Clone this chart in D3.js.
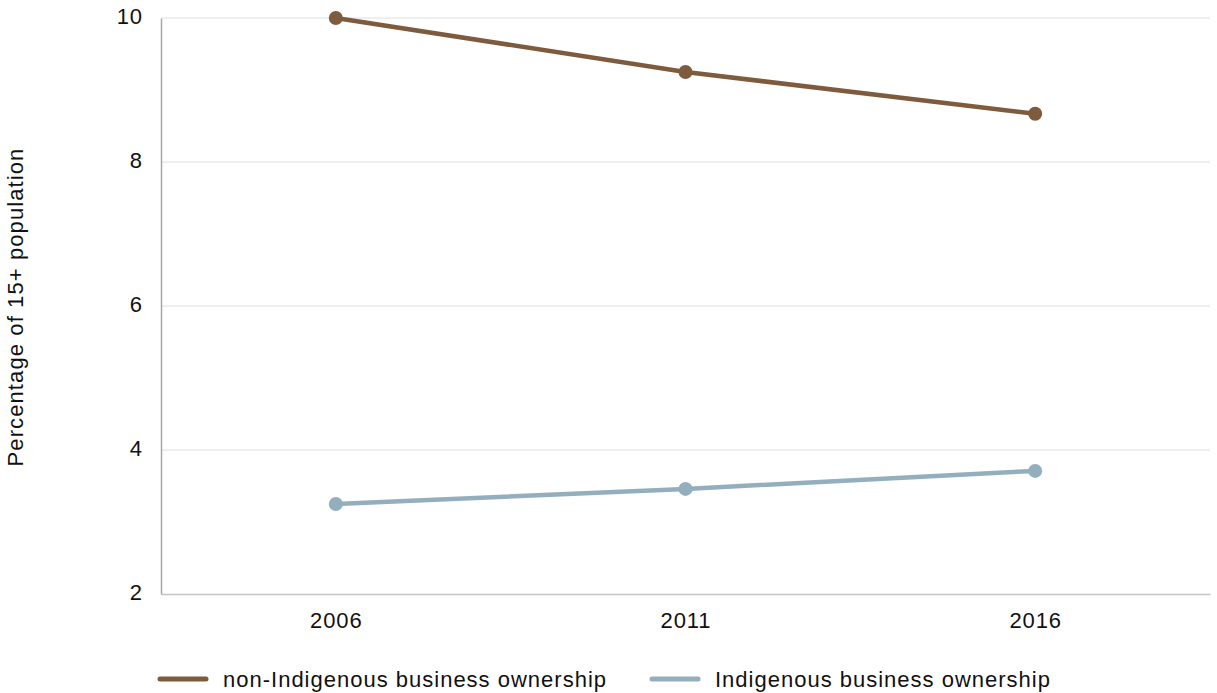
<!DOCTYPE html>
<html>
<head>
<meta charset="utf-8">
<script src="https://cdn.jsdelivr.net/npm/d3@7"></script>
<style>
  html, body { margin: 0; padding: 0; background: #fff; }
  svg { display: block; font-family: "Liberation Sans", Arial, Helvetica, sans-serif; }
</style>
</head>
<body>
<svg id="chart" width="1217" height="693"></svg>
<script>
// Census years on the horizontal axis
const years = ["2006", "2011", "2016"];
// Business owners as a share of the population aged 15 and over (%)
const nonIndigenous = [10.0, 9.25, 8.67];
const indigenous = [3.25, 3.46, 3.71];
// Value axis ticks
const yTicks = [2, 4, 6, 8, 10];

const seriesNames = ["non-Indigenous business ownership", "Indigenous business ownership"];
const seriesColors = ["#7f5b3d", "#93aebc"];

const series = [
  { name: seriesNames[0], color: seriesColors[0], values: nonIndigenous },
  { name: seriesNames[1], color: seriesColors[1], values: indigenous }
];

const svg = d3.select("#chart");
const margin = { left: 161, right: 7, top: 18, bottom: 99 };
const W = 1217, H = 693;
const fontSize = 22;
const spacing = "0.9px";

const x = d3.scalePoint()
  .domain(years)
  .range([margin.left, W - margin.right])
  .padding(0.5);

const y = d3.scaleLinear()
  .domain([2, 10])
  .range([H - margin.bottom, margin.top]);

// Horizontal gridlines
svg.append("g")
  .selectAll("line")
  .data(yTicks.filter(t => t !== 2))
  .join("line")
  .attr("x1", margin.left)
  .attr("x2", W - margin.right)
  .attr("y1", d => y(d))
  .attr("y2", d => y(d))
  .attr("stroke", "#dedede")
  .attr("stroke-width", 1);

// Y axis
const yAxis = svg.append("g")
  .attr("transform", `translate(${margin.left},0)`)
  .call(d3.axisLeft(y).tickValues(yTicks).tickSize(0).tickPadding(18).tickFormat(d3.format("d")));
yAxis.select(".domain").attr("stroke", "#a6a6a6").attr("stroke-width", 1.5);
yAxis.selectAll("text")
  .attr("font-size", fontSize)
  .attr("letter-spacing", spacing)
  .attr("dy", "0.26em")
  .attr("fill", "#111");

// X axis
const xAxis = svg.append("g")
  .attr("transform", `translate(0,${y(2)})`)
  .call(d3.axisBottom(x).tickSize(0).tickPadding(18));
xAxis.select(".domain").attr("stroke", "#c4c4c4").attr("stroke-width", 1.5);
xAxis.selectAll("text")
  .attr("font-size", fontSize)
  .attr("letter-spacing", spacing)
  .attr("fill", "#111");

// Y axis title
svg.append("text")
  .attr("transform", `translate(23,${(margin.top + H - margin.bottom) / 2 + 1}) rotate(-90)`)
  .attr("text-anchor", "middle")
  .attr("font-size", fontSize)
  .attr("letter-spacing", "1.1px")
  .attr("fill", "#111")
  .text("Percentage of 15+ population");

// Lines and markers
const line = d3.line()
  .x((d, i) => x(years[i]))
  .y(d => y(d));

const g = svg.append("g");
series.forEach(s => {
  g.append("path")
    .datum(s.values)
    .attr("fill", "none")
    .attr("stroke", s.color)
    .attr("stroke-width", 4.5)
    .attr("d", line);
  g.selectAll(null)
    .data(s.values)
    .join("circle")
    .attr("cx", (d, i) => x(years[i]))
    .attr("cy", d => y(d))
    .attr("r", 7)
    .attr("fill", s.color);
});

// Legend
const legendX = [160, 652];
const legend = svg.append("g").attr("transform", "translate(0,679)");
series.forEach((s, i) => {
  legend.append("line")
    .attr("x1", legendX[i])
    .attr("x2", legendX[i] + 46)
    .attr("y1", 0).attr("y2", 0)
    .attr("stroke", s.color)
    .attr("stroke-width", 5)
    .attr("stroke-linecap", "round");
  legend.append("text")
    .attr("x", legendX[i] + 63)
    .attr("y", 0)
    .attr("dy", "0.35em")
    .attr("font-size", fontSize)
    .attr("letter-spacing", "1px")
    .attr("fill", "#111")
    .text(s.name);
});
</script>
</body>
</html>
